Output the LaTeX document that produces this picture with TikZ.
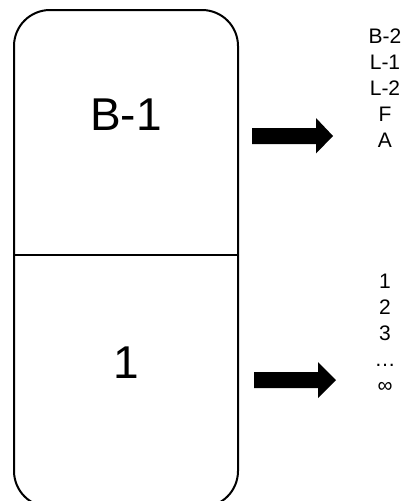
\documentclass[tikz,border=0pt]{standalone}
\usepackage{fontspec}
\setmainfont{Liberation Sans}
\begin{document}
\begin{tikzpicture}[x=1pt,y=-1pt,
  frame/.style={draw=black,line width=2pt,rounded corners=36pt},
  bigtext/.style={font=\fontsize{46}{52}\selectfont,inner sep=0pt,anchor=base},
  listtext/.style={font=\fontsize{21}{26}\selectfont,inner sep=0pt,anchor=base},
  fatarrow/.style={fill=black}]
  \useasboundingbox (0,0) rectangle (406,501);
  \clip (0,0) rectangle (406,501);

  % tall rounded card split in two halves
  \draw[frame] (14,10) rectangle (238,507);
  \draw[line width=2pt] (14,255) -- (238,255);

  \node[bigtext] (top) at (126,130) {B-1};
  \node[bigtext] (bottom) at (126,378) {1};

  % block arrows
  \fill[fatarrow] (252,128) -- (316,128) -- (316,118) -- (333,136) -- (316,153.5)
    -- (316,144) -- (252,144) -- cycle;
  \fill[fatarrow] (254,372) -- (318,372) -- (318,362) -- (336,380) -- (318,398)
    -- (318,388) -- (254,388) -- cycle;

  % value lists
  \node[listtext] (listA) at (385,43) {\setlength{\tabcolsep}{0pt}%
    \begin{tabular}[t]{c}B-2\\ L-1\\ L-2\\ F\\ A\end{tabular}};
  \node[listtext] (listB) at (385,288.5) {\setlength{\tabcolsep}{0pt}%
    \begin{tabular}[t]{c}1\\ 2\\ 3\\ …\\ ∞\end{tabular}};
\end{tikzpicture}
\end{document}
